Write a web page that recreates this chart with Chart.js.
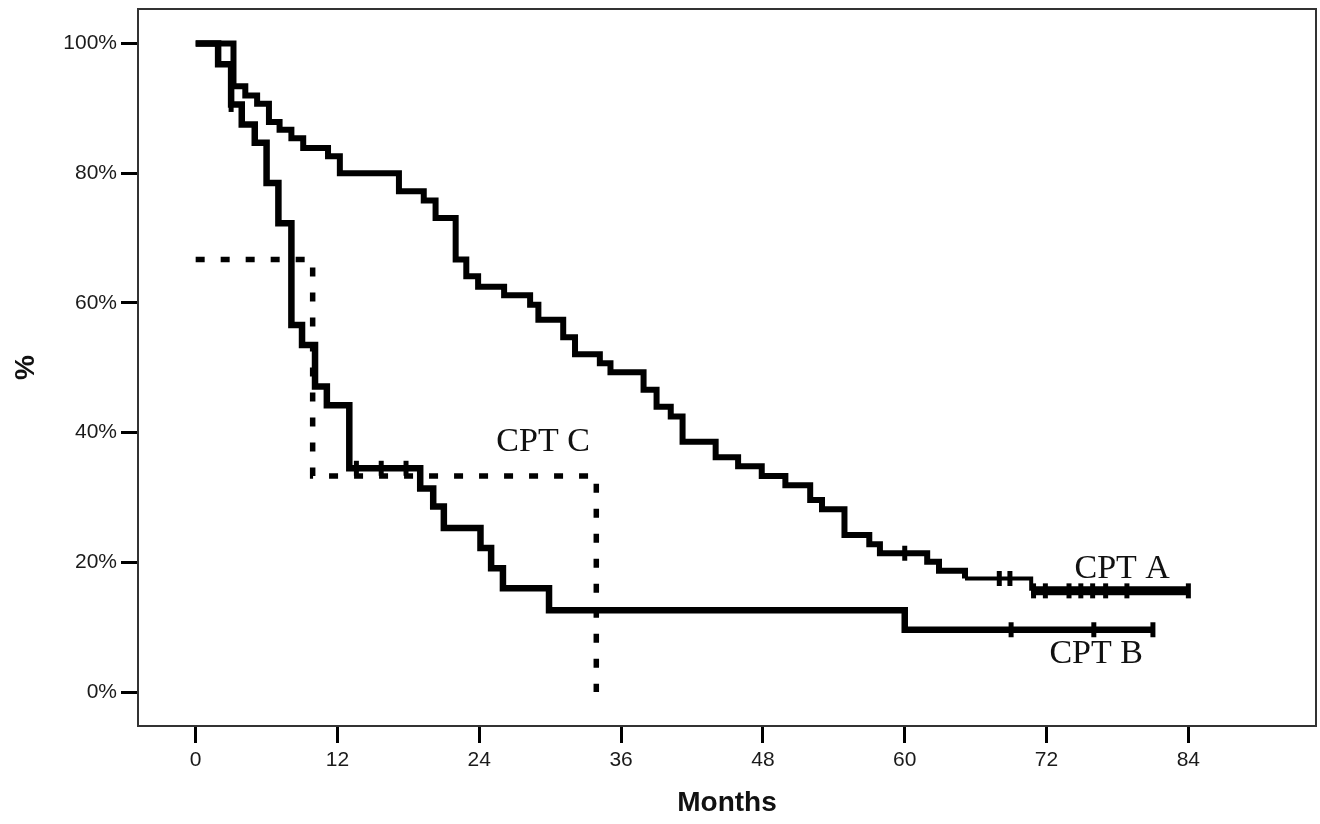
<!DOCTYPE html>
<html>
<head>
<meta charset="utf-8">
<title>Survival by Child-Pugh class</title>
<script src="https://cdn.jsdelivr.net/npm/chart.js@4.4.1/dist/chart.umd.min.js"></script>
<style>
  html, body { margin: 0; padding: 0; background: #fff; }
  #wrap { width: 1320px; height: 824px; }
</style>
</head>
<body>
<div id="wrap"><canvas id="km" width="1320" height="824"></canvas></div>
<script>
// Kaplan-Meier steps (months, % surviving after the step)
const aMonths = [0, 3.2, 4.2, 5.2, 6.2, 7.1, 8.1, 9.1, 11.2, 12.2, 17.2, 19.3, 20.3, 22.0, 22.9, 23.9, 26.1, 28.3, 29.0, 31.1, 32.1, 34.2, 35.1, 37.9, 39.0, 40.2, 41.2, 44.0, 45.9, 47.9, 49.9, 52.0, 53.0, 54.9, 57.0, 57.9, 61.9, 62.9, 65.1, 70.7, 84.0];
const aSurv   = [100, 93.4, 92.0, 90.7, 87.9, 86.7, 85.4, 83.9, 82.6, 80.0, 77.2, 75.8, 73.1, 66.7, 64.1, 62.5, 61.2, 59.7, 57.4, 54.7, 52.1, 50.7, 49.3, 46.6, 44.0, 42.5, 38.6, 36.2, 34.8, 33.3, 31.9, 29.6, 28.2, 24.2, 22.8, 21.4, 20.1, 18.7, 17.5, 15.6, 15.6];
const aCensored = [60.0, 68.0, 68.9, 70.9, 71.9, 73.9, 74.9, 75.9, 77.0, 78.8, 84.0];

const bMonths = [0, 1.9, 3.0, 3.9, 5.0, 6.0, 7.0, 8.1, 9.0, 10.1, 11.1, 13.0, 19.0, 20.1, 21.0, 24.1, 25.0, 26.0, 29.9, 60.0, 81.0];
const bSurv   = [100, 96.8, 90.6, 87.5, 84.7, 78.5, 72.3, 56.6, 53.5, 47.1, 44.2, 34.5, 31.4, 28.6, 25.3, 22.2, 19.1, 16.0, 12.6, 9.6, 9.6];
const bCensored = [3.0, 13.6, 15.7, 17.8, 69.0, 76.0, 81.0];

const cMonths = [0, 9.9, 33.9];
const cSurv   = [66.7, 33.3, 0];

const xTicks = [0, 12, 24, 36, 48, 60, 72, 84];
const yTicks = [0, 20, 40, 60, 80, 100];

const curveLabels = [
  { text: 'CPT A', month: 78.4, pct: 17.6 },
  { text: 'CPT B', month: 76.2, pct: 4.5 },
  { text: 'CPT C', month: 29.4, pct: 37.1 }
];

function toPoints(xs, ys) {
  return xs.map((x, i) => ({ x: x, y: ys[i] }));
}

// value of the step curve at month t (used to put censor ticks on the line)
function survAt(xs, ys, t) {
  let v = ys[0];
  for (let i = 0; i < xs.length; i++) {
    if (xs[i] <= t) v = ys[i];
  }
  return v;
}

function censorPoints(xs, ys, ts) {
  return ts.map(t => ({ x: t, y: survAt(xs, ys, t) }));
}

const censorStyle = {
  type: 'scatter',
  showLine: false,
  pointStyle: 'line',
  rotation: 90,
  pointRadius: 7.5,
  pointBorderWidth: 5,
  pointBorderColor: '#000',
  pointBackgroundColor: '#000'
};

// frame around the plot area
const frame = {
  id: 'frame',
  beforeDatasetsDraw(chart) {
    const { ctx, chartArea: a } = chart;
    ctx.save();
    ctx.strokeStyle = '#333';
    ctx.lineWidth = 2;
    ctx.strokeRect(a.left, a.top, a.right - a.left, a.bottom - a.top);
    ctx.restore();
  }
};

// curve names written next to the curves
const curveNames = {
  id: 'curveNames',
  afterDatasetsDraw(chart) {
    const { ctx, scales: { x, y } } = chart;
    ctx.save();
    ctx.fillStyle = '#111';
    ctx.font = '34px "Liberation Serif", "Times New Roman", serif';
    ctx.textAlign = 'center';
    ctx.textBaseline = 'alphabetic';
    curveLabels.forEach(l => {
      ctx.fillText(l.text, x.getPixelForValue(l.month), y.getPixelForValue(l.pct));
    });
    ctx.restore();
  }
};

const ctx = document.getElementById('km').getContext('2d');
const chart = new Chart(ctx, {
  type: 'line',
  data: {
    datasets: [
      {
        label: 'CPT C',
        data: toPoints(cMonths, cSurv),
        stepped: true,
        borderColor: '#000',
        borderWidth: 5.5,
        borderDash: [9, 16],
        borderCapStyle: 'butt',
        pointRadius: 0,
        fill: false
      },
      {
        label: 'CPT A',
        data: toPoints(aMonths, aSurv),
        stepped: true,
        borderColor: '#000',
        borderWidth: 6,
        borderJoinStyle: 'miter',
        pointRadius: 0,
        fill: false,
        segment: {
          borderWidth: c => c.p0.parsed.x >= 70 ? 9 : (c.p0.parsed.x >= 65 ? 4 : 6)
        }
      },
      {
        label: 'CPT B',
        data: toPoints(bMonths, bSurv),
        stepped: true,
        borderColor: '#000',
        borderWidth: 6.5,
        borderJoinStyle: 'miter',
        pointRadius: 0,
        fill: false
      },
      Object.assign({ label: 'A censored', data: censorPoints(aMonths, aSurv, aCensored) }, censorStyle),
      Object.assign({ label: 'B censored', data: censorPoints(bMonths, bSurv, bCensored) }, censorStyle)
    ]
  },
  options: {
    responsive: false,
    animation: false,
    devicePixelRatio: 1,
    layout: { autoPadding: false, padding: { top: 9, right: 4, left: 0, bottom: 0 } },
    plugins: {
      legend: { display: false },
      tooltip: { enabled: false }
    },
    scales: {
      x: {
        type: 'linear',
        min: -4.88,
        max: 94.8,
        afterBuildTicks: s => { s.ticks = xTicks.map(v => ({ value: v })); },
        afterFit: s => {
          s.height = 98;
          s.paddingLeft = 0;
          s.paddingRight = 0;
        },
        border: { display: false },
        grid: {
          drawOnChartArea: false,
          drawTicks: true,
          tickLength: 17,
          tickWidth: 3,
          tickColor: '#000'
        },
        ticks: {
          padding: 5,
          color: '#1a1a1a',
          font: { family: '"Liberation Sans", Arial, sans-serif', size: 21 }
        },
        title: {
          display: true,
          text: 'Months',
          color: '#111',
          font: { family: '"Liberation Sans", Arial, sans-serif', size: 28, weight: 'bold' },
          padding: { top: 0, bottom: 4 }
        }
      },
      y: {
        type: 'linear',
        min: -5.24,
        max: 105.32,
        afterBuildTicks: s => { s.ticks = yTicks.map(v => ({ value: v })); },
        afterFit: s => {
          s.width = 138;
          s.paddingTop = 0;
          s.paddingBottom = 0;
        },
        border: { display: false },
        grid: {
          drawOnChartArea: false,
          drawTicks: true,
          tickLength: 17,
          tickWidth: 3,
          tickColor: '#000'
        },
        ticks: {
          padding: 4,
          color: '#1a1a1a',
          font: { family: '"Liberation Sans", Arial, sans-serif', size: 21 },
          callback: v => v + '%'
        },
        title: {
          display: true,
          text: '%',
          color: '#111',
          font: { family: '"Liberation Sans", Arial, sans-serif', size: 28, weight: 'bold' },
          padding: { top: 9, bottom: 0 }
        }
      }
    }
  },
  plugins: [frame, curveNames]
});
</script>
</body>
</html>
